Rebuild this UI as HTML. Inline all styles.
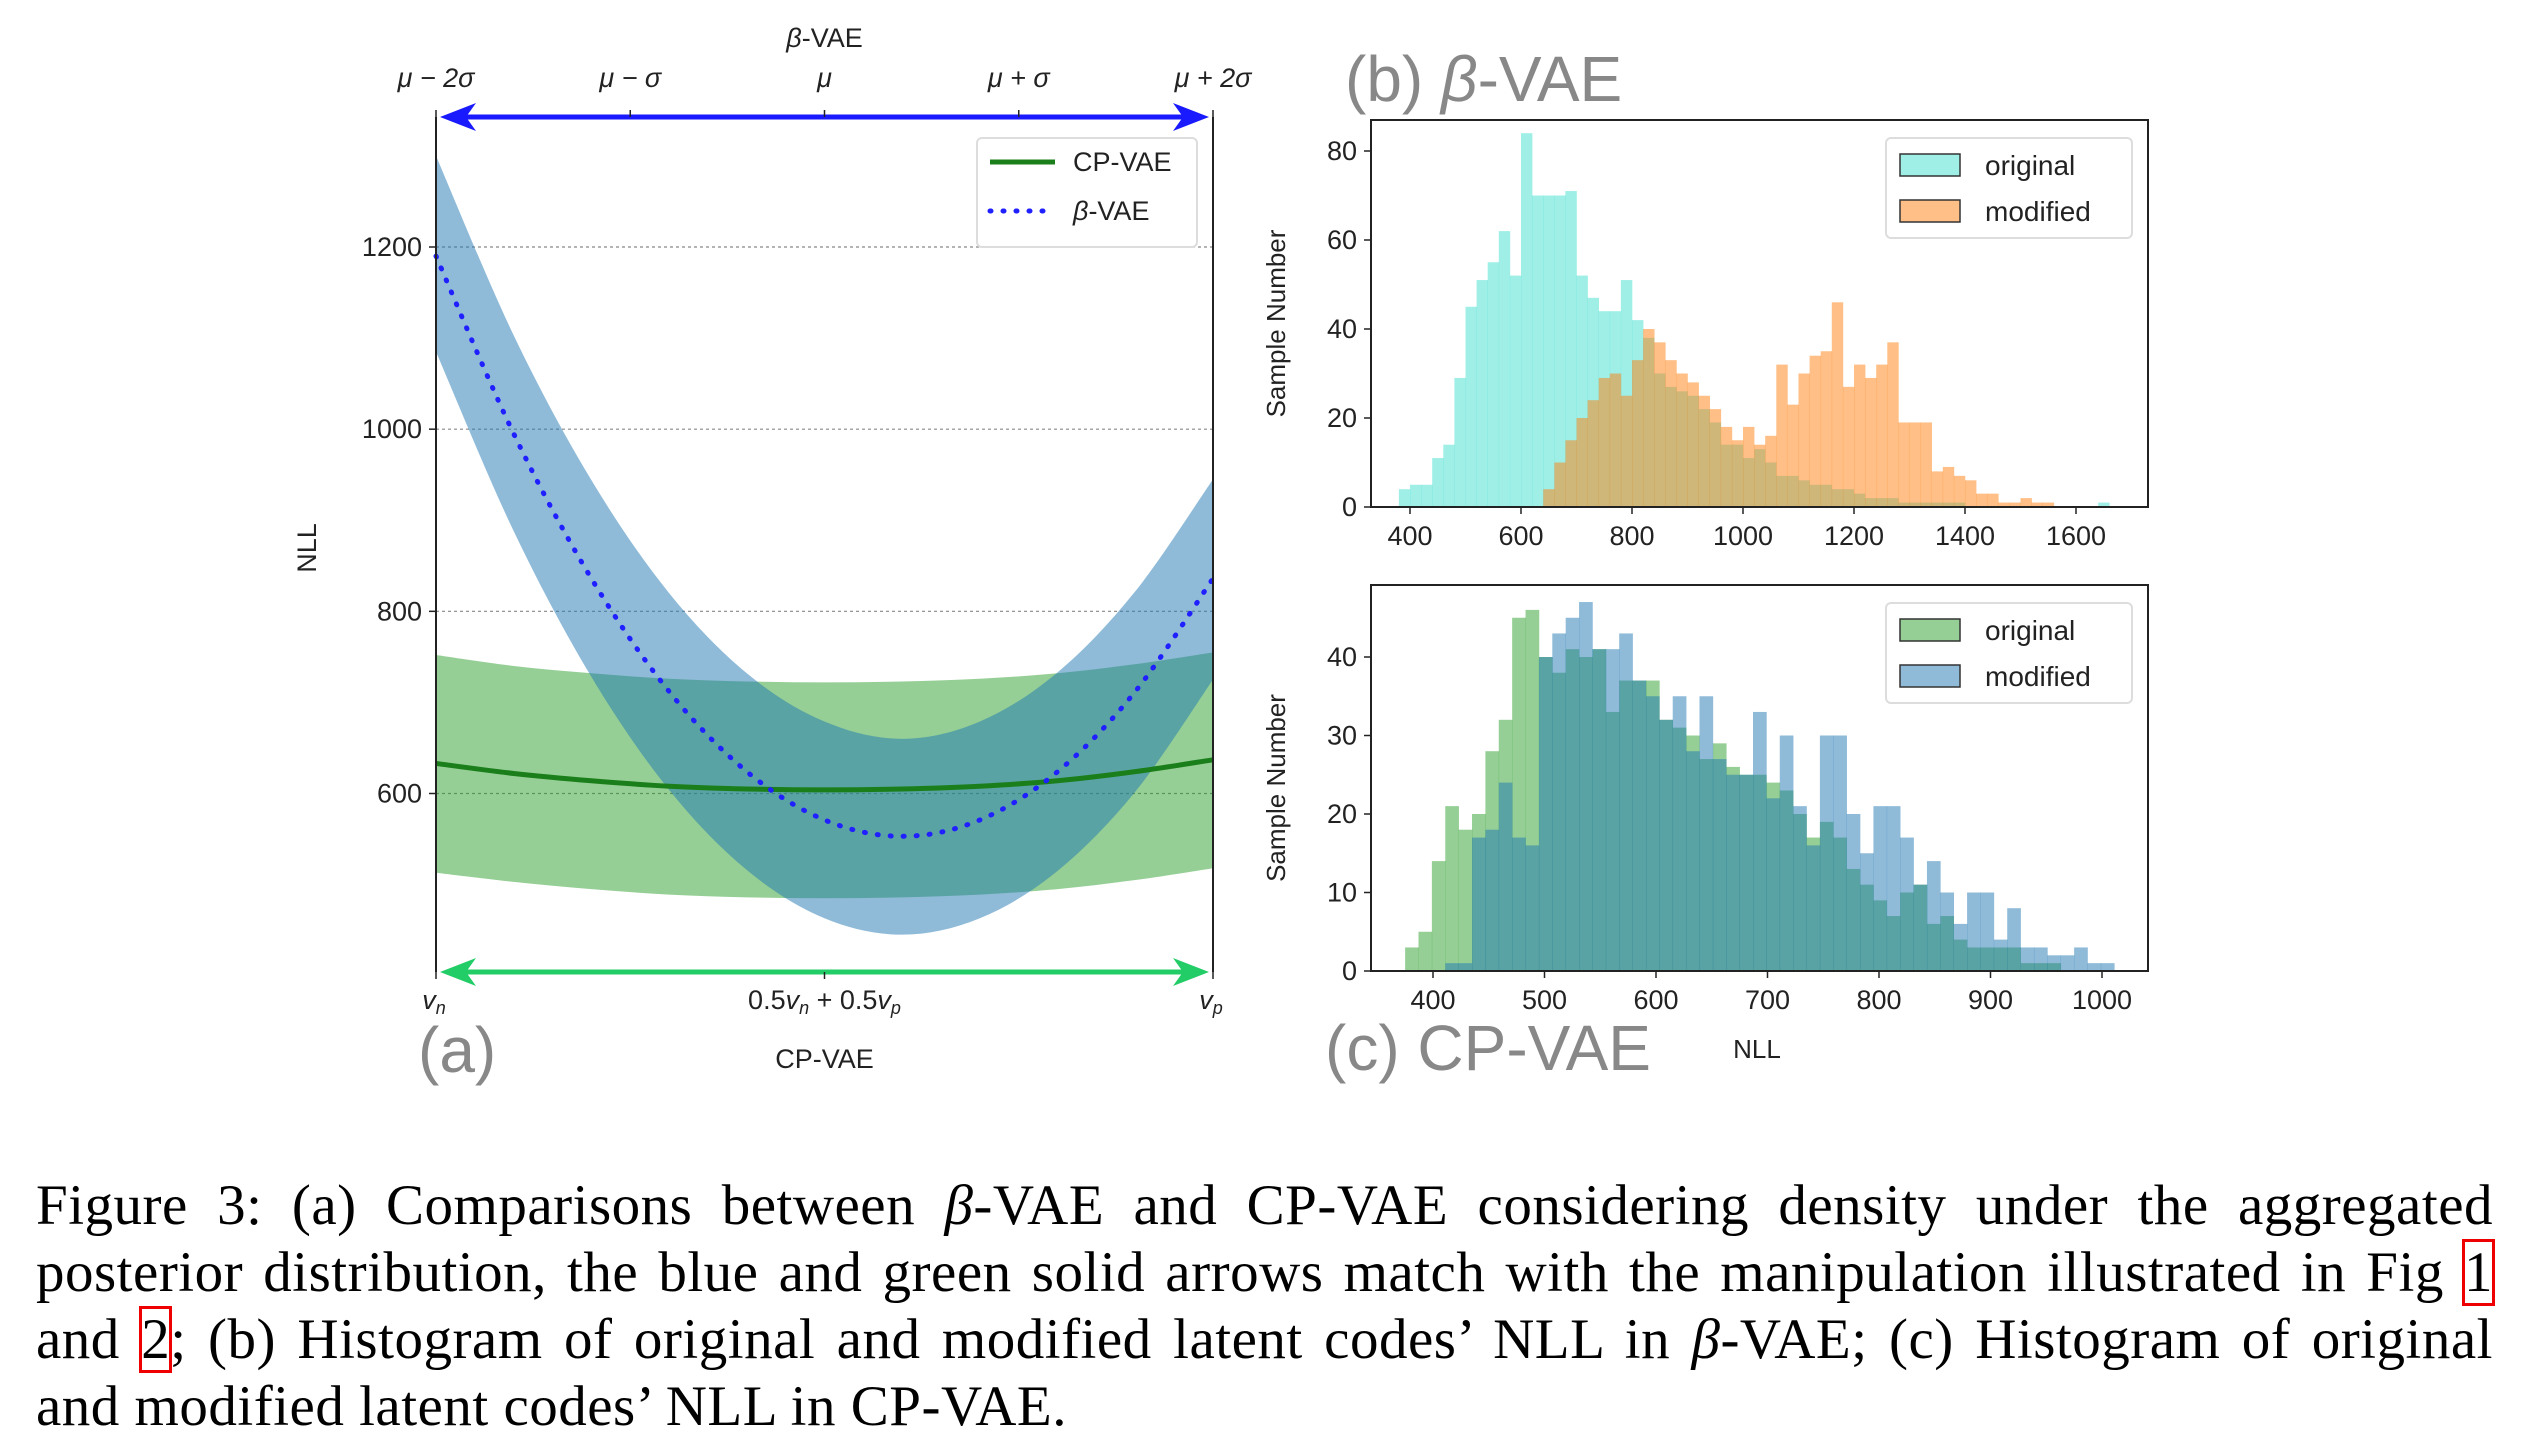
<!DOCTYPE html>
<html><head><meta charset="utf-8">
<style>
body{margin:0;background:#fff;width:2524px;height:1442px;overflow:hidden;position:relative}
svg{position:absolute;left:0;top:0}
.cap{position:absolute;left:36px;width:2457px;font-family:"Liberation Serif",serif;font-size:57px;letter-spacing:0.5px;line-height:67px;color:#000}
.j{text-align:justify;text-align-last:justify;white-space:nowrap}
.rb{outline:3px solid #e00;outline-offset:-1px}
</style></head><body>
<svg id="fig" width="2524" height="1442" xmlns="http://www.w3.org/2000/svg" font-family="Liberation Sans, DejaVu Sans, sans-serif"></svg>
<div class="cap" style="top:1172px">
<div class="j">Figure 3: (a) Comparisons between <i>β</i>-VAE and CP-VAE considering density under the aggregated</div>
<div class="j">posterior distribution, the blue and green solid arrows match with the manipulation illustrated in Fig <span class="rb">1</span></div>
<div class="j">and <span class="rb">2</span>; (b) Histogram of original and modified latent codes’ NLL in <i>β</i>-VAE; (c) Histogram of original</div>
<div>and modified latent codes’ NLL in CP-VAE.</div>
</div>
<script>
// ---- Panel (a) data ----
const aT = [0,0.1,0.2,0.3,0.4,0.5,0.6,0.7,0.8,0.9,1];
const betaMean = [1190,995,836,712,624,571,553,571,624,712,836];
const betaUpper = [1300,1103,944,820,732,679,660,679,733,822,945];
const betaLower = [1085,888,728,604,516,463,445,463,515,602,725];
const cpMean = [633,622,614,608,605,604,605,608,614,624,637];
const cpUpper = [752,740,732,726,723,722,723,726,732,742,755];
const cpLower = [513,503,495,489,486,485,486,489,495,505,518];
const aYTicks = [600,800,1000,1200];
const aTopTicks = ['μ − 2σ','μ − σ','μ','μ + σ','μ + 2σ'];
// ---- Panel (b) data ----
const bBinStart = 380, bBinW = 20;
const bOriginal = [4,5,5,11,14,29,45,51,55,62,52,84,70,70,70,71,52,47,44,44,51,42,38,30,27,26,25,22,19,14,14,11,13,10,7,7,6,5,5,4,4,3,2,2,2,1,1,1,1,1,1,0,0,0,0,0,0,0,0,0,0,0,0,1];
const bModStart = 640;
const bModified = [4,10,15,20,24,29,30,25,33,40,37,33,30,28,25,22,18,15,18,14,16,32,23,30,34,35,46,27,32,29,32,37,19,19,19,8,9,7,6,3,3,1,1,2,1,1];
const bXTicks = [400,600,800,1000,1200,1400,1600];
const bYTicks = [0,20,40,60,80];
// ---- Panel (c) data ----
const cBinW = 12;
const cOrigStart = 375;
const cOriginal = [3,5,14,21,18,20,28,32,45,46,40,38,41,40,41,33,37,37,37,32,31,30,27,29,26,25,25,24,23,20,17,19,17,13,11,9,7,10,11,6,7,4,3,3,3,3,1,1,1];
const cModStart = 411;
const cModified = [1,1,17,18,24,17,16,40,43,45,47,41,41,43,37,35,32,35,28,35,27,25,25,33,22,30,21,16,30,30,20,15,21,21,17,11,14,10,6,10,10,4,8,3,3,2,2,3,1,1];
const cXTicks = [400,500,600,700,800,900,1000];
const cYTicks = [0,10,20,30,40];

const NS='http://www.w3.org/2000/svg';
const svg=document.getElementById('fig');
function el(tag,attrs,parent,text){const e=document.createElementNS(NS,tag);for(const k in attrs)e.setAttribute(k,attrs[k]);if(text!==undefined)e.textContent=text;(parent||svg).appendChild(e);return e;}
const lin=(d0,d1,r0,r1)=>v=>r0+(v-d0)/(d1-d0)*(r1-r0);

// ===== Panel (a) =====
const aL=436,aR=1213,aTop=117,aB=972;
const ax=lin(0,1,aL,aR), ay=lin(600,1200,793.5,247);
function smooth(pts,move){
  let d=(move?'M':'L')+pts[0][0]+','+pts[0][1];
  for(let i=0;i<pts.length-1;i++){
    const p0=pts[Math.max(i-1,0)],p1=pts[i],p2=pts[i+1],p3=pts[Math.min(i+2,pts.length-1)];
    const c1=[p1[0]+(p2[0]-p0[0])/6,p1[1]+(p2[1]-p0[1])/6];
    const c2=[p2[0]-(p3[0]-p1[0])/6,p2[1]-(p3[1]-p1[1])/6];
    d+=` C${c1[0]},${c1[1]} ${c2[0]},${c2[1]} ${p2[0]},${p2[1]}`;
  }
  return d;
}
const pts=vals=>aT.map((t,i)=>[ax(t),ay(vals[i])]);
const ga=el('g',{});


aYTicks.forEach(v=>{
  const l=el('line',{x1:aL,x2:aR,y1:ay(v),y2:ay(v),stroke:'#888','stroke-width':1.2,'stroke-dasharray':'3,3'},ga);
  
  const t=el('text',{x:aL-14,y:ay(v)+9,'font-size':27,'text-anchor':'end',fill:'#222'},ga,String(v));
  
  el('line',{x1:aL-7,x2:aL,y1:ay(v),y2:ay(v),stroke:'#222','stroke-width':1.5},ga);
});
function band(up,lo,fill,name){
  const d=smooth(pts(up),true)+' '+smooth(pts(lo).reverse(),false)+'Z';
  const p=el('path',{d:d,fill:fill,'fill-opacity':0.5},ga);
  
}
band(cpUpper,cpLower,'#2ca02c','cp-vae-band');
band(betaUpper,betaLower,'#1f77b4','beta-vae-band');
const cpl=el('path',{d:smooth(pts(cpMean),true),fill:'none',stroke:'#1a7f1a','stroke-width':5},ga);

const bl=el('path',{d:smooth(pts(betaMean),true),fill:'none',stroke:'#1f1fff','stroke-width':5,'stroke-dasharray':'1,12','stroke-linecap':'round'},ga);

el('line',{x1:aL,x2:aL,y1:aTop,y2:aB,stroke:'#222','stroke-width':2},ga);
el('line',{x1:aR,x2:aR,y1:aTop,y2:aB,stroke:'#222','stroke-width':2},ga);
function arrow(y,color,name){
  const g=el('g',{},ga);
  el('line',{x1:aL+20,x2:aR-20,y1:y,y2:y,stroke:color,'stroke-width':5},g);
  el('path',{d:`M${aL+4},${y} L${aL+40},${y-14} L${aL+30},${y} L${aL+40},${y+14}Z`,fill:color},g);
  el('path',{d:`M${aR-4},${y} L${aR-40},${y-14} L${aR-30},${y} L${aR-40},${y+14}Z`,fill:color},g);
}
arrow(aTop,'#1a1aff','beta-vae-arrow');
arrow(aB,'#22cc66','cp-vae-arrow');
aTopTicks.forEach((s,i)=>{
  const x=ax(i/4);
  el('line',{x1:x,x2:x,y1:aTop,y2:aTop-7,stroke:'#222','stroke-width':1.5},ga);
  const t=el('text',{x:x,y:aTop-30,'font-size':27,'font-style':'italic','text-anchor':'middle',fill:'#222'},ga,s);
  
});
[0,0.5,1].forEach(v=>el('line',{x1:ax(v),x2:ax(v),y1:aB,y2:aB+7,stroke:'#222','stroke-width':1.5},ga));
let t;
t=el('text',{x:ax(0)-2,y:aB+37,'font-size':27,'font-style':'italic','text-anchor':'middle',fill:'#222'},ga,'v');el('tspan',{'font-size':18,dy:5},t,'n');

t=el('text',{x:ax(0.5),y:aB+37,'font-size':27,'text-anchor':'middle',fill:'#222'},ga);
t.innerHTML='0.5<tspan font-style="italic">v</tspan><tspan font-size="18" dy="5" font-style="italic">n</tspan><tspan dy="-5"> + 0.5</tspan><tspan font-style="italic">v</tspan><tspan font-size="18" dy="5" font-style="italic">p</tspan>';

t=el('text',{x:ax(1)-2,y:aB+37,'font-size':27,'font-style':'italic','text-anchor':'middle',fill:'#222'},ga,'v');el('tspan',{'font-size':18,dy:5},t,'p');

t=el('text',{x:ax(0.5),y:1068,'font-size':27,'text-anchor':'middle',fill:'#222'},ga,'CP-VAE');

t=el('text',{x:ax(0.5),y:47,'font-size':27,'text-anchor':'middle',fill:'#222'},ga);t.innerHTML='<tspan font-style="italic">β</tspan>-VAE';

t=el('text',{x:0,y:0,'font-size':27,'text-anchor':'middle',fill:'#222',transform:'translate(316,548) rotate(-90)'},ga,'NLL');

t=el('text',{x:418,y:1072,'font-size':64,fill:'#888'},ga,'(a)');

const lg=el('g',{},ga);
el('rect',{x:977,y:138,width:220,height:109,rx:5,fill:'#fff','fill-opacity':0.85,stroke:'#ddd','stroke-width':2},lg);
el('line',{x1:990,x2:1055,y1:162,y2:162,stroke:'#1a7f1a','stroke-width':5},lg);
el('text',{x:1073,y:171,'font-size':27,fill:'#222'},lg,'CP-VAE');
el('line',{x1:990,x2:1055,y1:211,y2:211,stroke:'#1f1fff','stroke-width':5,'stroke-dasharray':'1,12','stroke-linecap':'round'},lg);
el('text',{x:1073,y:220,'font-size':27,fill:'#222'},lg).innerHTML='<tspan font-style="italic">β</tspan>-VAE';

// ===== Histograms =====
function hist(o){
  const g=el('g',{});
  const x=lin(o.xd[0],o.xd[1],o.xr[0],o.xr[1]), y=lin(0,o.yd,o.B,o.yr);
  o.series.forEach(s=>{
    s.vals.forEach((v,i)=>{
      if(!v)return;
      const x0=x(s.start+i*o.w),x1=x(s.start+(i+1)*o.w);
      const r=el('rect',{x:x0,y:y(v),width:x1-x0+0.3,height:o.B-y(v),fill:s.color,'fill-opacity':0.5},g);
      
    });
  });
  el('rect',{x:o.L,y:o.T,width:o.R-o.L,height:o.B-o.T,fill:'none',stroke:'#222','stroke-width':2},g);
  o.xt.forEach(v=>{el('line',{x1:x(v),x2:x(v),y1:o.B,y2:o.B+7,stroke:'#222','stroke-width':1.5},g);
    const t=el('text',{x:x(v),y:o.B+38,'font-size':27,'text-anchor':'middle',fill:'#222'},g,String(v));
    });
  o.yt.forEach(v=>{el('line',{x1:o.L-7,x2:o.L,y1:y(v),y2:y(v),stroke:'#222','stroke-width':1.5},g);
    const t=el('text',{x:o.L-14,y:y(v)+9,'font-size':27,'text-anchor':'end',fill:'#222'},g,String(v));
    });
  const yt=el('text',{x:0,y:0,'font-size':26,'text-anchor':'middle',fill:'#222',transform:`translate(1285,${(o.T+o.B)/2+10}) rotate(-90)`},g,'Sample Number');
  
  const lg=el('g',{},g);
  el('rect',{x:1886,y:o.T+18,width:246,height:100,rx:5,fill:'#fff','fill-opacity':0.85,stroke:'#ddd','stroke-width':2},lg);
  o.series.forEach((s,i)=>{
    const yy=o.T+34+i*46;
    el('rect',{x:1900,y:yy,width:60,height:22,fill:s.color,'fill-opacity':0.5,stroke:'#333','stroke-width':1.5},lg);
    el('text',{x:1985,y:yy+21,'font-size':28,fill:'#222'},lg,s.label);
  });
}
hist({name:'panel-b-histogram',L:1371,R:2148,T:120,B:507,xd:[400,1600],xr:[1410,2076],yd:80,yr:151,w:bBinW,
  xt:bXTicks,yt:bYTicks,series:[{key:'original',label:'original',color:'#40e0d0',start:bBinStart,vals:bOriginal},
  {key:'modified',label:'modified',color:'#ff7f0e',start:bModStart,vals:bModified}]});
hist({name:'panel-c-histogram',L:1371,R:2148,T:585,B:971,xd:[400,1000],xr:[1433,2102],yd:40,yr:657,w:cBinW,
  xt:cXTicks,yt:cYTicks,series:[{key:'original',label:'original',color:'#2ca02c',start:cOrigStart,vals:cOriginal},
  {key:'modified',label:'modified',color:'#1f77b4',start:cModStart,vals:cModified}]});
t=el('text',{x:1345,y:101,'font-size':64,fill:'#888'});t.innerHTML='(b) <tspan font-style="italic">β</tspan>-VAE';

t=el('text',{x:1325,y:1070,'font-size':64,fill:'#888'},svg,'(c) CP-VAE');

t=el('text',{x:1757,y:1058,'font-size':26,'text-anchor':'middle',fill:'#222'},svg,'NLL');

</script>
</body></html>
